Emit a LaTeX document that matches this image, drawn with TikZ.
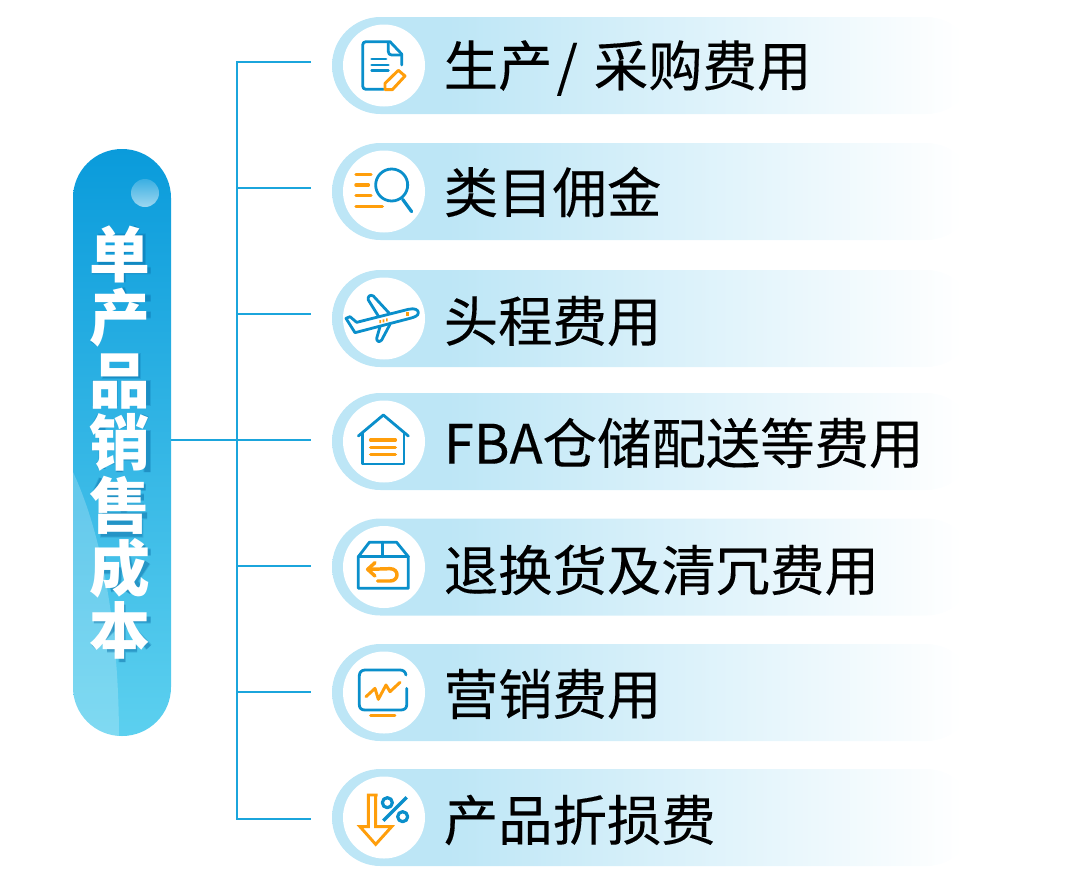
\documentclass[tikz,border=0pt]{standalone}
\usepackage{fontspec}
\setmainfont{Noto Sans CJK SC}
\newfontfamily\rowfont[FakeBold=0.2]{Noto Sans CJK SC}
\usetikzlibrary{shapes.misc}
\definecolor{linec}{HTML}{1BA5DC}
\definecolor{pillc}{HTML}{BDE6F6}
\definecolor{iconb}{HTML}{0A8FCB}
\definecolor{icono}{HTML}{FF9E0B}
\definecolor{maint}{HTML}{0A9BDB}
\definecolor{mainb}{HTML}{5CD0EF}
\definecolor{shadowc}{HTML}{0B6FA8}
\pgfdeclarehorizontalshading{pillshade}{100bp}{color(0bp)=(pillc); color(34bp)=(pillc); color(74bp)=(white); color(100bp)=(white)}
\tikzset{
  x=0.75pt,y=-0.75pt,
  pill/.style={rounded rectangle,minimum width=482.25pt,minimum height=72.75pt,inner sep=0pt,
    shading=pillshade,draw=none},
  disc/.style={circle,fill=white,minimum size=61.5pt,inner sep=0pt,draw=none},
  rowtext/.style={anchor=west,inner sep=0pt,text=black,font=\rowfont\fontsize{40.8}{48}\selectfont},
  conn/.style={draw=linec,line width=0.9pt},
  ib/.style={draw=iconb,line width=2.1pt,line cap=round,line join=round},
  io/.style={draw=icono,line width=2.2pt,line cap=round,line join=round},
  zoomed/.style={x=0.25pt,y=-0.25pt},
  shsoft/.style={draw=shadowc,draw opacity=0.22,line width=5.6pt},
  shhard/.style={draw=shadowc,draw opacity=0.38,line width=4.2pt}
}
\newcommand{\glyphshadow}[1]{\draw[shsoft] #1; \draw[shhard] #1;}
\begin{document}
\begin{tikzpicture}
\useasboundingbox (0,0) rectangle (1080,893);
% pills
\node[pill] (p1) at (653.5,65.5) {};
\node[pill] (p2) at (653.5,191.5) {};
\node[pill] (p3) at (653.5,318.5) {};
\node[pill] (p4) at (653.5,441.5) {};
\node[pill] (p5) at (653.5,567) {};
\node[pill] (p6) at (653.5,692.5) {};
\node[pill] (p7) at (653.5,817.5) {};
\node[disc] (d1) at (384,65.5) {};
\node[disc] (d2) at (384,191.5) {};
\node[disc] (d3) at (384,318.5) {};
\node[disc] (d4) at (384,441.5) {};
\node[disc] (d5) at (384,567) {};
\node[disc] (d6) at (384,692.5) {};
\node[disc] (d7) at (384,817.5) {};
\node[rowtext] (t1) at (443.5,68) {生产\hspace{3pt}/\hspace{12pt}采购费用};
\node[rowtext] (t2) at (443.5,192) {类目佣金};
\node[rowtext] (t3) at (443.5,321) {头程费用};
\node[rowtext] (t4) at (443.5,443) {FBA仓储配送等费用};
\node[rowtext] (t5) at (443.5,570) {退换货及清冗费用};
\node[rowtext] (t6) at (443.5,694) {营销费用};
\node[rowtext] (t7) at (443.5,820) {产品折损费};
% main pill
\node[rectangle,rounded corners=36.7pt,minimum width=73.5pt,minimum height=440.25pt,inner sep=0pt,
  top color=maint,bottom color=mainb,draw=none] (main) at (122,442.5) {};
\begin{scope}
  \clip[rounded corners=36.7pt] (73,149) rectangle (171,736);
  \fill[white,opacity=0.22] (73,472) .. controls (100,530) and (119,620) .. (119,740) -- (60,740) -- (60,472) -- cycle;
\end{scope}
\shade[top color=maint!80!white,bottom color=white!60!maint] (145,193) circle (14);
% soft shadow under the white title, drawn as strokes
\begin{scope}[shift={(82.2,222.2)},zoomed]
  \glyphshadow{(58,45) rectangle (180,120) (58,82) -- (180,82) (120,45) -- (120,180) (30,145) -- (205,145) (70,15) -- (88,40) (165,15) -- (148,40)}
  \glyphshadow{(118,198) -- (125,220) (42,228) -- (205,228) (80,240) -- (90,265) (165,240) -- (150,265) (205,278) -- (55,278) -- (55,300) .. controls (55,325) and (45,350) .. (35,365)}
\end{scope}
\begin{scope}[shift={(82.2,347.2)},zoomed]
  \glyphshadow{(72,28) rectangle (165,85) (42,110) rectangle (96,165) (135,110) rectangle (195,165)}
  \glyphshadow{(55,205) -- (35,245) (45,240) -- (95,225) (35,300) -- (90,300) (60,240) -- (60,365) (45,355) -- (95,340) (145,205) -- (145,240) (115,215) -- (125,240) (190,205) -- (175,240) (112,375) -- (112,260) -- (195,260) -- (195,375) (112,295) -- (195,295) (112,330) -- (195,330)}
\end{scope}
\begin{scope}[shift={(82.2,472.2)},zoomed]
  \glyphshadow{(60,20) -- (35,75) (70,50) -- (70,125) (70,45) -- (190,45) (70,75) -- (185,75) (70,105) -- (185,105) (70,130) -- (195,130) (125,25) -- (125,130) (65,152) rectangle (172,185)}
  \glyphshadow{(55,240) -- (205,240) (60,240) .. controls (60,300) and (52,340) .. (35,365) (60,295) -- (110,295) -- (105,345) -- (85,350) (130,210) .. controls (135,280) and (155,340) .. (185,360) (195,270) -- (135,360) (165,215) -- (185,230)}
\end{scope}
\begin{scope}[shift={(82.2,597.2)},zoomed]
  \glyphshadow{(35,68) -- (205,68) (120,22) -- (120,195) (110,75) -- (35,150) (130,75) -- (200,150) (75,155) -- (165,155)}
\end{scope}
\node[inner sep=0pt,align=center,text=white,font=\bfseries\fontsize{45.6}{47}\selectfont] (mt) at (120,443) {单\\产\\品\\销\\售\\成\\本};
% connectors
\coordinate (c1) at (311,62);
\coordinate (c2) at (311,188);
\coordinate (c3) at (311,314);
\coordinate (c4) at (311,440);
\coordinate (c5) at (311,566);
\coordinate (c6) at (311,692);
\coordinate (c7) at (311,819);
\coordinate (j1) at (237,62);
\coordinate (j7) at (237,819);
\coordinate (m) at (171,440);
\draw[conn] (c1) -- (j1) -- (j7) -- (c7);
\draw[conn] (237,188) -- (c2);
\draw[conn] (237,314) -- (c3);
\draw[conn] (m) -- (c4);
\draw[conn] (237,566) -- (c5);
\draw[conn] (237,692) -- (c6);
% icon 1 and 2
\begin{scope}[shift={(330,10)},zoomed]
  \draw[ib] (160,238) -- (108,238) .. controls (102,238) and (98,234) .. (98,228) -- (98,105) .. controls (98,99) and (102,95) .. (108,95) -- (180,95) -- (215,132) -- (215,165);
  \draw[ib] (175,97) -- (175,125) .. controls (175,131) and (179,135) .. (185,135) -- (215,135);
  \draw[ib] (125,147) -- (168,147) (125,165) -- (175,165) (125,182) -- (175,182);
  \draw[io] (165,239) -- (165,220) -- (205,181) -- (225,198) -- (187,239) -- cycle;
  \draw[io,line width=2.6pt] (78,493) -- (123,493) (78,525) -- (115,525) (78,556) -- (123,556) (78,590) -- (157,590);
  \draw[ib] (185,525) circle (48);
  \draw[ib,line width=2.4pt] (218,568) -- (245,605);
\end{scope}
% icon 3 and 4
\begin{scope}[shift={(330,260)},zoomed]
  \draw[ib] (48,175) -- (60,170) -- (80,187) -- (235,148) .. controls (255,143) and (265,150) .. (265,158) .. controls (265,167) and (255,171) .. (240,175) -- (75,218) -- cycle;
  \draw[ib] (178,160) -- (130,108) .. controls (120,102) and (112,110) .. (115,120) -- (145,168);
  \draw[ib] (180,193) -- (155,240) .. controls (148,248) and (140,245) .. (140,235) -- (150,200);
  \fill[icono] (227,155) rectangle (236,168);
  \fill[icono] (148,180) rectangle (153,189) (158,178) rectangle (163,187) (168,175) rectangle (173,184);
  \draw[ib] (85,528) -- (160,465) -- (235,528);
  \draw[ib] (98,518) -- (98,612) -- (222,612) -- (222,518);
  \draw[io,line width=2.6pt] (122,540) -- (196,540) (122,562) -- (196,562) (122,584) -- (196,584);
\end{scope}
% icon 5 and 6
\begin{scope}[shift={(330,510)},zoomed]
  \draw[ib] (85,140) -- (118,97) -- (200,97) -- (235,140) -- (235,235) -- (85,235) -- cycle;
  \draw[ib] (85,140) -- (235,140) (158,97) -- (158,140);
  \draw[io,line width=2.6pt] (143,213) -- (180,213) .. controls (208,213) and (208,176) .. (180,176) -- (115,178);
  \draw[io,line width=2.6pt] (135,158) -- (113,178) -- (135,198);
  \draw[ib] (228,495) .. controls (226,485) and (220,480) .. (210,480) -- (105,480) .. controls (95,480) and (88,487) .. (88,497) -- (88,585) .. controls (88,595) and (95,600) .. (105,600) -- (212,600) .. controls (223,600) and (230,595) .. (230,585) -- (230,535);
  \draw[io] (122,617) -- (195,617);
  \draw[io] (108,560) -- (135,535) -- (145,568) -- (168,525) -- (180,545) -- (210,517);
\end{scope}
% icon 7
\begin{scope}[shift={(330,760)},zoomed]
  \draw[io,line cap=butt,line join=miter] (143,105) -- (115,105) -- (115,200) -- (90,200) -- (137,253) -- (185,200) -- (137,200) -- (137,105);
  \draw[ib,line width=2.4pt] (172,128) circle (15) (218,170) circle (15);
  \draw[ib,line width=2.6pt,line cap=butt] (230,112) -- (160,182);
\end{scope}
\end{tikzpicture}
\end{document}
